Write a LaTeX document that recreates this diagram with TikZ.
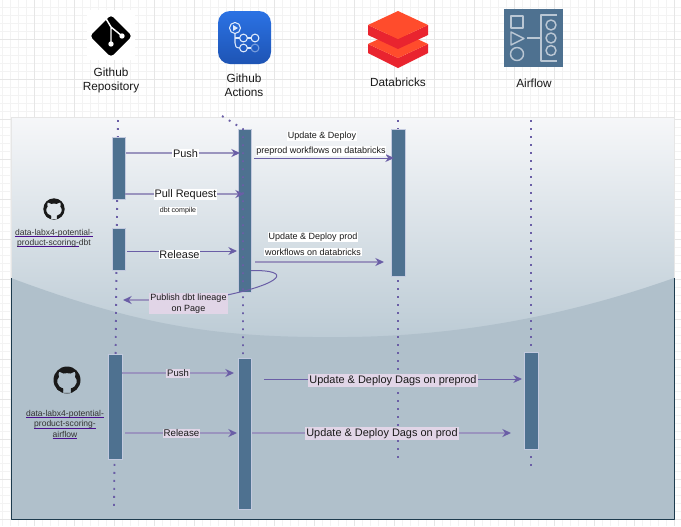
\documentclass[tikz,border=0pt]{standalone}
\usepackage{fontspec}
\setmainfont{Liberation Sans}
\usetikzlibrary{arrows.meta}

\definecolor{gridmajor}{HTML}{E6E6E6}
\definecolor{gridminor}{HTML}{F3F3F3}
\definecolor{panelrim}{HTML}{1D3B4E}
\definecolor{paneltop}{HTML}{F6F7F9}
\definecolor{panelmid}{HTML}{BCCBD5}
\definecolor{panellow}{HTML}{B0C0CB}
\definecolor{barblue}{HTML}{4E7190}
\definecolor{barline}{HTML}{C3CADF}
\definecolor{msgdark}{HTML}{6A5EA6}
\definecolor{msglight}{HTML}{9A94BE}
\definecolor{lilac}{HTML}{E1D5E7}
\definecolor{linkline}{HTML}{4B0F8F}
\definecolor{dbred}{HTML}{E9242F}
\definecolor{dborange}{HTML}{FF4C2C}
\definecolor{airline}{HTML}{BAC7D4}
\definecolor{ghtop}{HTML}{2B72E4}
\definecolor{ghlow}{HTML}{1E54B4}

\newcommand{\linkul}[1]{\leavevmode\setbox0\hbox{#1}\rlap{\textcolor{linkline}{\rule[-1.1pt]{\wd0}{0.6pt}}}#1}

\tikzset{
	lifeline/.style={msgdark, line width=1.4pt, dash pattern=on 1.4pt off 4.6pt},
	bar/.style={draw=barline, fill=barblue, line width=0.6pt, minimum width=10.2pt, inner sep=0pt},
	msg/.style={msgdark, line width=0.75pt, -{Stealth[length=6.5pt,width=6pt,color=msgdark]}},
	msgthick/.style={msglight, line width=1.2pt, -{Stealth[length=6.5pt,width=6pt,color=msgdark]}},
	toplabel/.style={align=center, text=black!90, font=\fontsize{8.85}{10.5}\selectfont},
	whitelabel/.style={fill=white, text=black!90, inner sep=0.6pt, font=\fontsize{8.2}{9.8}\selectfont},
	smalllabel/.style={whitelabel, font=\fontsize{6.75}{8}\selectfont},
	lilaclabel/.style={fill=lilac, text=black!90, inner sep=0.8pt, font=\fontsize{8.2}{10}\selectfont},
	linklabel/.style={align=center, text=black!80, font=\fontsize{6.4}{7.7}\selectfont},
	pics/octocat/.style={code={
		\fill[even odd rule, black!90] (0,0) circle (1)
			(-.28,.95) -- (-.28,.62) .. controls (-.8,.5) and (-.8,-.05) .. (-.6,-.22)
			.. controls (-.66,-.4) and (-.62,-.55) .. (-.58,-.62)
			.. controls (-.45,-.6) and (-.35,-.55) .. (-.25,-.48)
			.. controls (-.1,-.52) and (.1,-.52) .. (.25,-.48)
			.. controls (.35,-.55) and (.45,-.6) .. (.58,-.62)
			.. controls (.62,-.55) and (.66,-.4) .. (.6,-.22)
			.. controls (.8,-.05) and (.8,.5) .. (.28,.62) -- (.28,.95) -- cycle;
		\fill[black!90] (-.28,.66) .. controls (-.5,.72) and (-.62,.62) .. (-.76,.42)
			-- (-.82,.5) .. controls (-.7,.8) and (-.5,.88) .. (-.28,.84) -- cycle;
	}}
}

\begin{document}
\begin{tikzpicture}[
	x=0.75pt,
	y=-0.75pt,
	line cap=butt,
	line join=round
	]
	\useasboundingbox (0,0) rectangle (681,526);
	\fill[white] (0,0) rectangle (681,526);

	% Page grid
	\foreach \gx in {2,10,...,681}
		\draw[gridminor, line width=0.5pt] (\gx,0) -- (\gx,526);
	\foreach \gy in {7,15,...,526}
		\draw[gridminor, line width=0.5pt] (0,\gy) -- (681,\gy);
	\foreach \gx in {34,74,...,681}
		\draw[gridmajor, line width=0.6pt] (\gx,0) -- (\gx,526);
	\foreach \gy in {39,79,...,526}
		\draw[gridmajor, line width=0.6pt] (0,\gy) -- (681,\gy);

	% Panel with the wave
	\shade[top color=paneltop, bottom color=panelmid] (11,117) rectangle (674,340);
	\fill[panellow] (11,278) .. controls (150,330) and (230,338) .. (347,337)
		.. controls (460,336) and (570,315) .. (674,278) -- (674,519) -- (11,519) -- cycle;
	\draw[gridmajor, line width=0.7pt] (11,278) -- (11,117) -- (674,117) -- (674,278);
	\draw[panelrim, line width=0.65pt] (11,278) -- (11,519) -- (674,519) -- (674,278);

	% Logos: git
	\fill[white] (87,10) rectangle (135,60);
	\fill[black, rounded corners=2.5pt] (111,15) -- (132,36) -- (111,57) -- (90,36) -- cycle;
	\draw[white, line width=1.1pt] (105,17) -- (111,27) -- (111,44) (111,27) -- (122,36);
	\fill[white] (111,44) circle (2.7) (122,36) circle (2.7);

	% Logos: actions
	\shade[top color=ghtop, bottom color=ghlow, rounded corners=9pt] (218,11) rectangle (271,64);
	\begin{scope}[white!85!ghtop, line width=0.8pt]
		\draw (235,28) circle (5.5);
		\fill (233,25) -- (238,28) -- (233,31) -- cycle;
		\draw (243.5,38) circle (3.9) (255,38) circle (3.9) (243.5,48) circle (3.9);
		\draw (235,33.5) -- (235,43) .. controls (235,46) and (236,48) .. (239.6,48);
		\draw (235,38) -- (239.6,38) (247.4,38) -- (251.1,38) (247.4,48) -- (251.1,48);
		\draw[opacity=0.45] (255,48) circle (3.9);
	\end{scope}

	% Logos: databricks
	\fill[dbred] (368,44) -- (398,58) -- (428,44) -- (428,53) -- (398,68) -- (368,53) -- cycle;
	\fill[dborange] (368,44) -- (398,30) -- (428,44) -- (398,58) -- cycle;
	\fill[dbred] (368,25) -- (398,39) -- (428,25) -- (428,35) -- (398,49) -- (368,35) -- cycle;
	\fill[dborange] (398,11) -- (428,25) -- (398,39) -- (368,25) -- cycle;

	% Logos: airflow
	\fill[barblue] (504,9) rectangle (563,67);
	\begin{scope}[airline, line width=1.1pt]
		\draw (511,16) rectangle (523,28);
		\draw (511,32) -- (524,38.5) -- (511,45) -- cycle;
		\draw (517,54) circle (6.5);
		\draw (527,38) -- (541,38);
		\draw (557,15) -- (541,15) -- (541,61) -- (557,61);
		\draw (551,25) circle (5) (551,38) circle (5) (551,50.5) circle (5);
	\end{scope}

	% Names of the actors
	\node[toplabel] (repoName) at (111,80.5) {Github\\Repository};
	\node[toplabel] (actName) at (244,85.5) {Github\\Actions};
	\node[toplabel] (dbName) at (398,82) {Databricks};
	\node[toplabel] (airName) at (534,83) {Airflow};

	% Lifeline ends
	\coordinate (repoTop) at (118,120);
	\coordinate (repoEnd) at (114,508);
	\coordinate (actStart) at (222,116);
	\coordinate (actTop) at (243,129);
	\coordinate (actEnd) at (243,357);
	\coordinate (dbTop) at (398,120);
	\coordinate (dbEnd) at (398,458);
	\coordinate (airTop) at (531,120);
	\coordinate (airEnd) at (531,468);

	\draw[lifeline] (repoTop) -- (repoEnd);
	\draw[lifeline] (dbTop) -- (dbEnd);
	\draw[lifeline] (airTop) -- (airEnd);

	% Activation bars
	\node[bar, minimum height=46.5pt] (repoA) at (118.8,168) {};
	\node[bar, minimum height=31.5pt] (repoB) at (118.8,249) {};
	\node[bar, minimum height=78.8pt] (repoC) at (115.3,406.5) {};
	\node[bar, minimum height=122.2pt] (actA) at (245,210.5) {};
	\node[bar, minimum height=113.2pt] (actB) at (245,433.5) {};
	\node[bar, minimum height=110.2pt] (dbA) at (398.5,202.8) {};
	\node[bar, minimum height=72.8pt] (airA) at (531.5,401) {};

	\draw[lifeline] (actStart) -- (actTop) -- (actEnd);

	% Arrow ends, upper part
	\coordinate (pushA) at (126,153);
	\coordinate (pushB) at (240,153);
	\coordinate (pullA) at (125,194);
	\coordinate (pullB) at (244,194);
	\coordinate (relA) at (127,251);
	\coordinate (relB) at (237,251);
	\coordinate (preA) at (254,158);
	\coordinate (preB) at (394,158);
	\coordinate (prodA) at (255,262);
	\coordinate (prodB) at (384,262);
	\coordinate (loopA) at (251,270.5);
	\coordinate (loopB) at (227,295);
	\coordinate (pubA) at (150,300);
	\coordinate (pubB) at (123,300);

	% Arrow ends, lower part
	\coordinate (push2A) at (122,373);
	\coordinate (push2B) at (234,373);
	\coordinate (rel2A) at (125,433);
	\coordinate (rel2B) at (237,433);
	\coordinate (dagA) at (264,379);
	\coordinate (dagB) at (522,379);
	\coordinate (dag2A) at (252,433);
	\coordinate (dag2B) at (511,433);

	\draw[msgthick] (pushA) -- (pushB);
	\draw[msgthick] (pullA) -- (pullB);
	\draw[msg] (relA) -- (relB);
	\draw[msg] (preA) -- (preB);
	\draw[msgthick] (prodA) -- (prodB);
	\draw[msgdark, line width=0.75pt] (loopA) .. controls (295,270) and (280,284) .. (loopB);
	\draw[msgthick] (pubA) -- (pubB);
	\draw[msgthick] (push2A) -- (push2B);
	\draw[msgthick] (rel2A) -- (rel2B);
	\draw[msg] (dagA) -- (dagB);
	\draw[msgthick] (dag2A) -- (dag2B);

	% Message labels
	\node[whitelabel] (pushL) at (185.5,153.5) {Push};
	\node[whitelabel] (pullL) at (185.5,194.5) {Pull Request};
	\node[whitelabel, font=\fontsize{5.3}{6.4}\selectfont] (compileL) at (178,211) {dbt compile};
	\node[whitelabel] (relL) at (179.5,254.5) {Release};
	\node[smalllabel] (preL) at (322,136) {Update \& Deploy};
	\node[smalllabel] (preM) at (321,151) {preprod workflows on databricks};
	\node[smalllabel] (prodL) at (313,237) {Update \& Deploy prod};
	\node[smalllabel] (prodM) at (313,252) {workflows on databricks };
	\node[lilaclabel, align=center, font=\fontsize{6.75}{8.3}\selectfont, minimum width=57.5pt, minimum height=15.6pt] (pubL) at (188.5,303.5) {Publish dbt lineage\\on Page};

	\node[lilaclabel, font=\fontsize{7.1}{8.5}\selectfont] (push2L) at (178,373.5) {Push};
	\node[lilaclabel, font=\fontsize{7.3}{8.7}\selectfont] (rel2L) at (181.5,433.5) {Release};
	\node[lilaclabel] (dagL) at (393,380.5) {Update \& Deploy Dags on preprod};
	\node[lilaclabel] (dag2L) at (382,433.5) {Update \& Deploy Dags on prod};

	% Repositories
	\pic[scale=10.7] at (54,209) {octocat};
	\pic[scale=13.5] at (67,380) {octocat};
	\node[linklabel] (repoDbt) at (54,238) {\linkul{data-labx4-potential-}\\\linkul{product-scoring-}dbt};
	\node[linklabel] (repoAir) at (65,424.5) {\linkul{data-labx4-potential-}\\\linkul{product-scoring-}\\\linkul{airflow}};
\end{tikzpicture}
\end{document}
